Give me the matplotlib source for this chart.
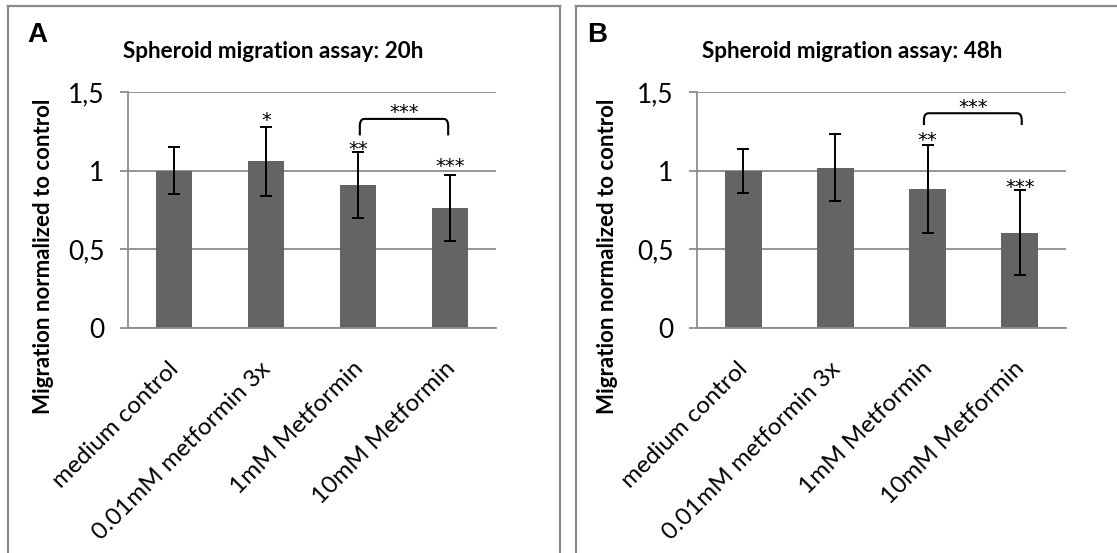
import matplotlib
matplotlib.use('Agg')
import matplotlib.pyplot as plt
from matplotlib.lines import Line2D
from matplotlib.path import Path
from matplotlib.patches import PathPatch
from matplotlib.transforms import ScaledTranslation
import numpy as np

CATEGORIES = ['medium control', '0.01mM metformin 3x', '1mM Metformin', '10mM Metformin']
TITLES = ['Spheroid migration assay: 20h', 'Spheroid migration assay: 48h']
LETTERS = ['A', 'B']
MEANS_20H = [1.00, 1.06, 0.91, 0.765]
ERRS_20H = [0.15, 0.22, 0.21, 0.21]
MEANS_48H = [1.00, 1.02, 0.885, 0.605]
ERRS_48H = [0.14, 0.21, 0.28, 0.27]
# significance marks: (bar index, label, y of star centre)
STARS_20H = [(1, '*', 1.346), (2, '**', 1.162), (3, '***', 1.056)]
STARS_48H = [(2, '**', 1.216), (3, '***', 0.917)]
# bracket: (from bar, to bar, end y, top y, star y)
BRACKET_20H = (2.02, 2.98, 1.224, 1.329, 1.397)
BRACKET_48H = (1.96, 3.02, 1.29, 1.365, 1.429)
YTICKS = [0, 0.5, 1, 1.5]
YTICKLABELS = ['0', '0,5', '1', '1,5']

BAR = '#646464'
GRID = '#8c8c8c'
FRAME = '#8a8a8a'
FONT = 'Lato'
W, H = 1117, 553

plt.rcParams['font.family'] = [FONT, 'DejaVu Sans']

fig = plt.figure(figsize=(W / 100, H / 100), dpi=100)


def px(x, y):
    return x / W, 1 - y / H


def bracket(ax, x0, x1, ylow, ytop, r=0.05):
    rx = r
    ry = r * 0.9
    verts = [(x0, ylow), (x0, ytop - ry), (x0, ytop), (x0 + rx, ytop),
             (x1 - rx, ytop), (x1, ytop), (x1, ytop - ry), (x1, ylow)]
    codes = [Path.MOVETO, Path.LINETO, Path.CURVE3, Path.CURVE3,
             Path.LINETO, Path.CURVE3, Path.CURVE3, Path.LINETO]
    ax.add_patch(PathPatch(Path(verts, codes), fill=False, lw=1.5, ec='black', zorder=4))


def star(ax, x, y, lab):
    ax.annotate(lab, (x, y), xytext=(0, -7), textcoords='offset points',
                ha='center', va='baseline', fontsize=14, family='DejaVu Sans')


panels = [
    (128, 368, MEANS_20H, ERRS_20H, STARS_20H, BRACKET_20H, 7.5, 560, 273, 44, 27),
    (697, 369, MEANS_48H, ERRS_48H, STARS_48H, BRACKET_48H, 575.5, 1117, 852, 608, 587),
]

for i, (left, width, means, errs, stars, br, fl, fr, tx, lx, ax_letter) in enumerate(panels):
    # panel frame
    fx0, fy0 = px(fl, 5.5)
    fx1, _ = px(fr, 5.5)
    fig.add_artist(Line2D([fx0, fx0], [0, fy0], color=FRAME, lw=1.6))
    fig.add_artist(Line2D([fx0, fx1], [fy0, fy0], color=FRAME, lw=1.6))
    if fr < W:
        fig.add_artist(Line2D([fx1, fx1], [0, fy0], color=FRAME, lw=1.6))

    ax = fig.add_axes([left / W, 1 - 328 / H, width / W, 236 / H])
    x = np.arange(len(CATEGORIES))
    ax.bar(x, means, width=0.4, color=BAR, zorder=2)
    ax.errorbar(x, means, yerr=errs, fmt='none', ecolor='black', elinewidth=1.4,
                capsize=4.3, capthick=1.4, zorder=3)
    ax.set_xlim(-0.5, 3.5)
    ax.set_ylim(0, 1.5)
    ax.set_yticks(YTICKS)
    ax.set_yticklabels(YTICKLABELS)
    ax.yaxis.grid(True, color=GRID, lw=1.3, zorder=0)
    ax.set_axisbelow(True)
    for s in ['top', 'right']:
        ax.spines[s].set_visible(False)
    for s in ['left', 'bottom']:
        ax.spines[s].set_color(GRID)
        ax.spines[s].set_linewidth(1.3)
    ax.tick_params(axis='y', length=6, width=1.3, color=GRID, pad=11, labelsize=19)
    ax.tick_params(axis='x', length=0, pad=15)
    ax.set_xticks(x)
    ax.set_xticklabels(CATEGORIES, rotation=45, ha='right', rotation_mode='anchor',
                       fontsize=17.5)
    shift = ScaledTranslation(-0.06, -0.09, fig.dpi_scale_trans)
    for lab in ax.get_xticklabels():
        lab.set_transform(lab.get_transform() + shift)

    for idx, lab, ys in stars:
        star(ax, idx, ys, lab)
    b0, b1, ylow, ytop, ystar = br
    bracket(ax, b0, b1, ylow, ytop)
    star(ax, (b0 + b1) / 2, ystar, '***')

    fig.text(*px(tx, 52), TITLES[i], ha='center', va='center', fontsize=16.2,
             fontweight='bold')
    fig.text(*px(lx, 256), 'Migration normalized to control', rotation=90,
             ha='center', va='center', fontsize=16, fontweight='bold')
    fig.text(*px(ax_letter, 35.5), LETTERS[i], ha='left', va='center', fontsize=20,
             fontweight='bold', family='Liberation Sans')

fig.savefig('out.png', dpi=100)
